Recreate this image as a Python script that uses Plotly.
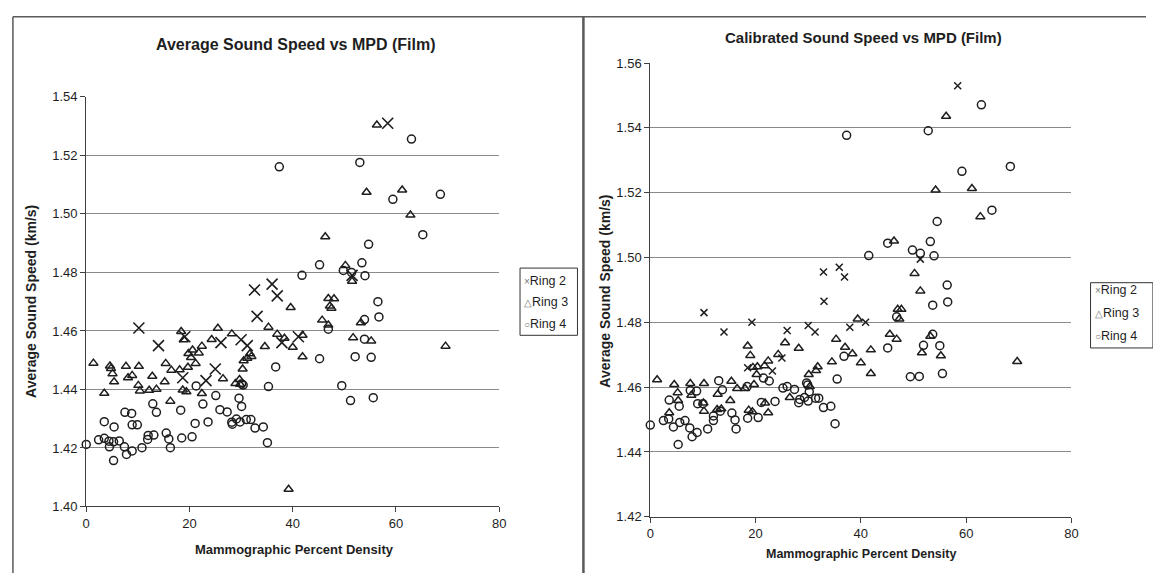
import plotly.graph_objects as go

# ---- left chart: average sound speed (km/s) vs MPD ----
avg_r2_x = [10.2, 14.0, 19.1, 18.7, 23.2, 25.0, 26.1, 30.0, 31.2, 32.6, 33.1, 36.0, 37.0, 37.9, 41.1, 51.5, 58.4]
avg_r2_y = [1.461, 1.455, 1.458, 1.444, 1.443, 1.447, 1.456, 1.457, 1.455, 1.474, 1.465, 1.476, 1.472, 1.456, 1.458, 1.479, 1.531]

avg_r3_x = [1.4, 3.5, 4.6, 4.8, 5.1, 5.4, 7.7, 8.1, 8.9, 10.2, 10.1, 10.4, 12.2, 12.8, 13.6, 15.4, 15.2, 16.3,
            16.5, 18.1, 18.4, 18.9, 18.7, 19.4, 19.7, 19.8, 20.6, 20.3, 21.2, 21.8, 22.4, 22.4, 24.3, 25.5, 26.5,
            28.2, 28.9, 29.7, 29.8, 30.3, 30.5, 31.2, 31.7, 32.0, 34.6, 35.3, 37.0, 38.4, 39.6, 40.0, 41.9, 41.9,
            45.7, 46.3, 46.9, 46.9, 47.2, 47.5, 48.0, 50.2, 51.5, 51.7, 53.2, 54.3, 55.2, 56.3, 61.2, 62.8, 69.6, 39.2]
avg_r3_y = [1.4490, 1.4387, 1.4480, 1.4472, 1.4454, 1.4426, 1.4479, 1.4440, 1.4448, 1.4479, 1.4414, 1.4395,
            1.4397, 1.4445, 1.4401, 1.4489, 1.4426, 1.4360, 1.4466, 1.4467, 1.4598, 1.4570, 1.4398, 1.4392,
            1.4476, 1.4523, 1.4535, 1.4509, 1.4489, 1.4525, 1.4548, 1.4386, 1.4571, 1.4609, 1.4437, 1.4590,
            1.4420, 1.4434, 1.4418, 1.4470, 1.4498, 1.4507, 1.4522, 1.4513, 1.4547, 1.4613, 1.4589, 1.4575,
            1.4680, 1.4544, 1.4585, 1.4512, 1.4637, 1.4922, 1.4620, 1.4711, 1.4685, 1.4678, 1.4710, 1.4824,
            1.4770, 1.4577, 1.4628, 1.5074, 1.4566, 1.5304, 1.5082, 1.4996, 1.4548, 1.4059]

avg_r4_x = [0.0, 2.4, 3.5, 3.5, 4.4, 4.5, 5.4, 5.3, 5.3, 6.4, 7.4, 7.5, 7.8, 8.8, 8.9, 8.9, 9.9, 10.8, 11.9,
            12.0, 12.9, 13.1, 13.6, 15.5, 16.0, 16.3, 18.3, 18.5, 20.5, 21.1, 21.3, 22.6, 23.6, 25.1, 25.9, 27.3,
            28.2, 28.3, 29.1, 29.6, 30.1, 29.8, 30.1, 30.4, 31.0, 31.9, 32.7, 34.3, 35.1, 35.3, 36.7, 37.4, 41.8,
            45.2, 45.2, 46.9, 49.5, 49.8, 51.2, 51.4, 53.0, 53.4, 52.1, 53.9, 53.9, 54.0, 54.7, 55.2, 55.6, 56.5,
            56.7, 59.4, 63.0, 65.2, 68.6]
avg_r4_y = [1.4212, 1.4228, 1.4290, 1.4233, 1.4223, 1.4204, 1.4272, 1.4221, 1.4157, 1.4224, 1.4204, 1.4322,
            1.4178, 1.4318, 1.4190, 1.4279, 1.4279, 1.4201, 1.4229, 1.4243, 1.4351, 1.4244, 1.4322, 1.4251,
            1.4231, 1.4201, 1.4329, 1.4234, 1.4238, 1.4284, 1.4412, 1.4350, 1.4289, 1.4379, 1.4331, 1.4323,
            1.4288, 1.4281, 1.4299, 1.4370, 1.4342, 1.4289, 1.4419, 1.4415, 1.4297, 1.4297, 1.4268, 1.4272,
            1.4218, 1.4410, 1.4477, 1.5161, 1.4790, 1.4826, 1.4505, 1.4606, 1.4413, 1.4807, 1.4362, 1.4800,
            1.5176, 1.4833, 1.4512, 1.4572, 1.4639, 1.4789, 1.4896, 1.4510, 1.4372, 1.4700, 1.4648, 1.5050,
            1.5256, 1.4929, 1.5067]

# ---- right chart: calibrated sound speed (km/s) vs MPD ----
cal_r2_x = [10.2, 14.0, 19.3, 18.5, 23.2, 25.0, 26.0, 30.0, 31.3, 32.9, 33.0, 35.9, 36.9, 37.9, 40.9, 51.3, 58.4]
cal_r2_y = [1.4830, 1.4770, 1.4800, 1.4660, 1.4650, 1.4690, 1.4775, 1.4790, 1.4770, 1.4955, 1.4865, 1.4970,
            1.4940, 1.4785, 1.4800, 1.4995, 1.5530]

cal_r3_x = [1.3, 3.6, 4.55, 5.2, 5.3, 7.6, 7.8, 10.2, 10.1, 10.2, 12.8, 12.7, 13.5, 15.4, 15.2, 16.5, 18.0,
            18.5, 19.0, 18.7, 19.4, 19.7, 19.5, 20.35, 20.2, 21.7, 21.8, 22.4, 22.4, 24.3, 25.6, 26.5, 28.2,
            30.3, 30.1, 31.5, 31.8, 34.5, 35.3, 37.0, 38.4, 39.4, 40.0, 41.9, 41.9, 45.5, 46.3, 46.8, 47.0,
            47.7, 47.3, 50.2, 51.3, 51.6, 53.2, 54.2, 55.2, 56.2, 61.1, 62.7, 69.7]
cal_r3_y = [1.4623, 1.4521, 1.4608, 1.4583, 1.4559, 1.4611, 1.4575, 1.4611, 1.4551, 1.4526, 1.4578, 1.4531,
            1.4533, 1.4618, 1.4559, 1.4596, 1.4596, 1.4727, 1.4698, 1.4529, 1.4524, 1.4608, 1.4661, 1.4663,
            1.4639, 1.4666, 1.4551, 1.4521, 1.4681, 1.4701, 1.4737, 1.4568, 1.4720, 1.4602, 1.4639, 1.4651,
            1.4663, 1.4678, 1.4748, 1.4723, 1.4703, 1.4810, 1.4675, 1.4715, 1.4642, 1.4763, 1.5051, 1.4748,
            1.4840, 1.4840, 1.4810, 1.4951, 1.4897, 1.4706, 1.4757, 1.5208, 1.4697, 1.5436, 1.5213, 1.5126,
            1.4679]

cal_r4_x = [0.0, 2.5, 3.6, 3.5, 4.4, 5.3, 5.5, 5.6, 6.6, 7.5, 7.6, 7.95, 8.8, 8.9, 9.0, 10.0, 10.9, 12.0,
            12.0, 13.0, 13.3, 13.7, 15.5, 16.1, 16.3, 18.4, 18.5, 20.5, 21.1, 21.5, 22.6, 23.7, 25.2, 26.0,
            27.4, 28.2, 28.4, 29.3, 29.7, 29.9, 30.0, 30.2, 31.4, 32.0, 32.9, 34.3, 35.1, 35.5, 36.8, 37.3,
            41.5, 45.1, 45.1, 46.8, 49.4, 49.8, 51.1, 51.3, 51.9, 52.8, 53.2, 53.65, 53.65, 53.9, 54.5, 55.0,
            55.5, 56.4, 56.5, 59.2, 62.9, 64.9, 68.4]
cal_r4_y = [1.4483, 1.4497, 1.4560, 1.4502, 1.4477, 1.4423, 1.4541, 1.4491, 1.4497, 1.4474, 1.4590, 1.4447,
            1.4588, 1.4460, 1.4549, 1.4549, 1.4471, 1.4497, 1.4511, 1.4620, 1.4526, 1.4592, 1.4520, 1.4499,
            1.4471, 1.4602, 1.4504, 1.4506, 1.4553, 1.4628, 1.4619, 1.4556, 1.4597, 1.4602, 1.4593, 1.4552,
            1.4562, 1.4568, 1.4613, 1.4607, 1.4557, 1.4586, 1.4566, 1.4566, 1.4537, 1.4541, 1.4487, 1.4625,
            1.4695, 1.5377, 1.5006, 1.4721, 1.5044, 1.4817, 1.4632, 1.5023, 1.4633, 1.5013, 1.4729, 1.5391,
            1.5049, 1.4853, 1.4763, 1.5005, 1.5111, 1.4728, 1.4642, 1.4915, 1.4863, 1.5266, 1.5471, 1.5146,
            1.5281]

ring_names = ["Ring 2", "Ring 3", "Ring 4"]
legend_glyphs = ["\u00d7", "\u25b3", "\u25cb"]
x_ticks = [0, 20, 40, 60, 80]

W, H = 1153, 581
FONT = "Liberation Sans, Arial, sans-serif"
INK = "#1e1e1e"


def px(x):
    return x / W


def py(y):
    return 1 - y / H


fig = go.Figure()

left_sets = [(avg_r2_x, avg_r2_y), (avg_r3_x, avg_r3_y), (avg_r4_x, avg_r4_y)]
right_sets = [(cal_r2_x, cal_r2_y), (cal_r3_x, cal_r3_y), (cal_r4_x, cal_r4_y)]
# open symbols take their stroke colour from marker.color
left_markers = [dict(symbol="x-thin-open", size=11, color=INK, line=dict(width=1.6, color=INK)),
                dict(symbol="triangle-up-open", size=8, color=INK, line=dict(width=1.5, color=INK)),
                dict(symbol="circle-open", size=8, color=INK, line=dict(width=1.5, color=INK))]
right_markers = [dict(symbol="x-thin-open", size=7, color=INK, line=dict(width=1.5, color=INK)),
                 dict(symbol="triangle-up-open", size=8, color=INK, line=dict(width=1.5, color=INK)),
                 dict(symbol="circle-open", size=8, color=INK, line=dict(width=1.5, color=INK))]

for (xs, ys), mk, name in zip(left_sets, left_markers, ring_names):
    fig.add_trace(go.Scatter(x=xs, y=ys, mode="markers", name=name, marker=mk,
                             cliponaxis=False, showlegend=False, xaxis="x", yaxis="y"))
for (xs, ys), mk, name in zip(right_sets, right_markers, ring_names):
    fig.add_trace(go.Scatter(x=xs, y=ys, mode="markers", name=name, marker=mk,
                             cliponaxis=False, showlegend=False, xaxis="x2", yaxis="y2"))

axis_common = dict(ticks="outside", ticklen=5, tickcolor="#404040", showline=True, linecolor="#404040",
                   linewidth=1, zeroline=False, tickfont=dict(family=FONT, size=13, color=INK))

fig.update_layout(
    width=W, height=H,
    margin=dict(l=0, r=0, t=0, b=0),
    paper_bgcolor="white", plot_bgcolor="white",
    showlegend=False,
    xaxis=dict(domain=[px(83), px(500)], range=[0, 80], tickvals=x_ticks, showgrid=False,
               anchor="y", **axis_common),
    yaxis=dict(domain=[py(512.7), py(92.3)], range=[1.40, 1.54], dtick=0.02, tick0=1.40,
               tickformat=".2f", showgrid=True, gridcolor="#8a8a8a", gridwidth=1,
               anchor="x", **axis_common),
    xaxis2=dict(domain=[px(652.5), px(1077.7)], range=[0, 80], tickvals=x_ticks, showgrid=False,
                anchor="y2", **axis_common),
    yaxis2=dict(domain=[py(523.3), py(57.5)], range=[1.42, 1.56], dtick=0.02, tick0=1.42,
                tickformat=".2f", showgrid=True, gridcolor="#8a8a8a", gridwidth=1,
                anchor="x2", **axis_common),
)

# outer frame and divider between the two charts
frame = "#5a5a5a"
fig.add_shape(type="line", xref="paper", yref="paper", x0=px(9), x1=1, y0=py(10), y1=py(10),
              line=dict(color=frame, width=1.5))
fig.add_shape(type="line", xref="paper", yref="paper", x0=px(9), x1=px(9), y0=0, y1=py(10),
              line=dict(color=frame, width=1.5))
fig.add_shape(type="line", xref="paper", yref="paper", x0=px(585), x1=px(585), y0=0, y1=py(10),
              line=dict(color=frame, width=2.5))


def text(s, x, y, size, bold=False, angle=0, anchor="center"):
    fig.add_annotation(xref="paper", yref="paper", x=px(x), y=py(y), text=f"<b>{s}</b>" if bold else s,
                       showarrow=False, textangle=angle, xanchor=anchor, yanchor="middle",
                       font=dict(family=FONT, size=size, color=INK))


# titles
text("Average Sound Speed vs MPD (Film)", 294, 39, 16, bold=True)
text("Calibrated Sound Speed vs MPD (Film)", 868, 31, 15, bold=True)
text("Average Sound Speed (km/s)", 27, 302, 14, bold=True, angle=-90)
text("Average Sound Speed (km/s)", 607, 292, 14, bold=True, angle=-90)
text("Mammographic Percent Density", 293, 557, 13, bold=True)
text("Mammographic Percent Density", 865, 562, 12.5, bold=True)

# legends drawn as boxed text
for (bx0, by0, bx1, by1, rows) in [(521, 268, 579, 337, [281, 303, 325]),
                                     (1097, 283, 1160, 350, [291, 314, 338])]:
    fig.add_shape(type="rect", xref="paper", yref="paper", x0=px(bx0), x1=px(bx1), y0=py(by1), y1=py(by0),
                  line=dict(color="#333333", width=1), fillcolor="white")
    for g, name, ry in zip(legend_glyphs, ring_names, rows):
        text(f"<span style='color:#777777;font-size:10px'>{g}</span>{name}", bx0 + 2, ry, 12.5, anchor="left")

# drop the default body margin so the figure sits at the window origin without scrollbars
fig.write_html("out.html", config={"displayModeBar": False},
               post_script="document.body.style.margin='0';document.body.style.overflow='hidden';")
